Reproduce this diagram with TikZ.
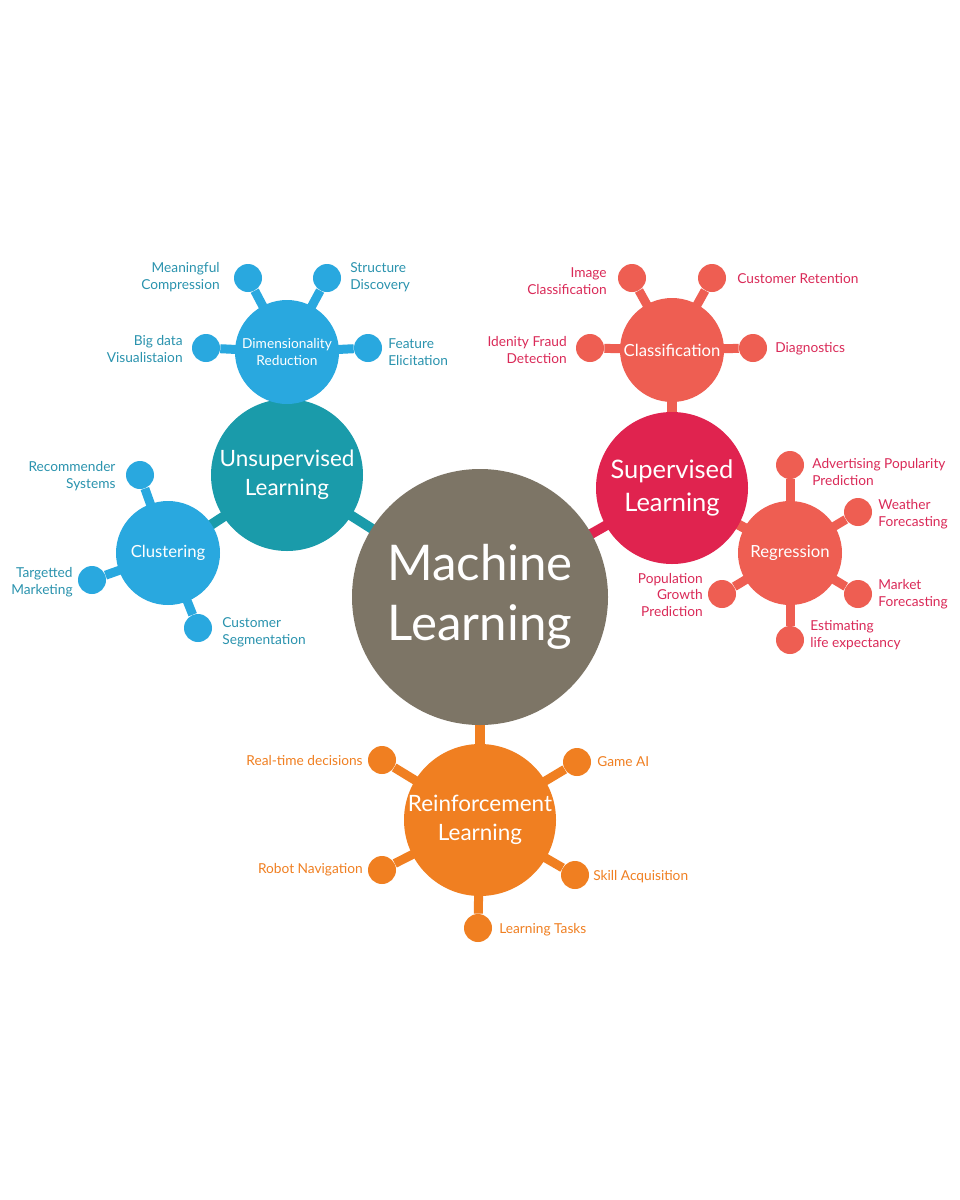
\documentclass[tikz,border=0pt]{standalone}
\usepackage{fontspec}
\setmainfont{Lato}
\begin{document}
\begin{tikzpicture}[x=0.02cm,y=-0.02cm,
 big/.style={circle,minimum size=152*0.02cm,inner sep=0,align=center,text=white,font=\fontsize{12.8}{16.5}\selectfont},
 mid/.style={circle,minimum size=104*0.02cm,inner sep=0,align=center,text=white,font=\fontsize{9.5}{11}\selectfont},
 leaf/.style={circle,minimum size=28*0.02cm,inner sep=0},
 lab/.style={font=\fontsize{7.8}{9.5}\selectfont,inner sep=0},
 con/.style={line width=10*0.02cm}]
\definecolor{cml}{HTML}{7D7566}
\definecolor{cun}{HTML}{1A9BAA}
\definecolor{cbl}{HTML}{29A8DF}
\definecolor{csu}{HTML}{E0234F}
\definecolor{csa}{HTML}{EE5E52}
\definecolor{cor}{HTML}{F07F21}
\definecolor{tbl}{HTML}{2A93AE}
\definecolor{tre}{HTML}{DA2A58}
\useasboundingbox (0,0) rectangle (960,1200);
\fill[white] (0,0) rectangle (960,1200);
\coordinate (ml) at (480,597);
\coordinate (un) at (287,475);
\coordinate (dr) at (287,352);
\coordinate (cl) at (168,553);
\coordinate (su) at (672,488);
\coordinate (cc) at (672,350);
\coordinate (re) at (790,553);
\coordinate (rl) at (480,820);
\draw[con,cun] (ml) -- (un);
\draw[con,cun] (un) -- (dr);
\draw[con,cun] (un) -- (cl);
\draw[con,csu] (ml) -- (su);
\draw[con,csa] (su) -- (cc);
\draw[con,csa] (su) -- (re);
\draw[con,cor] (ml) -- (rl);
\foreach \n/\p/\c/\col in {a/{248,278}/dr/cbl, b/{327,278}/dr/cbl, c/{206,348}/dr/cbl, d/{368,348}/dr/cbl,
  e/{140,475}/cl/cbl, f/{92,580}/cl/cbl, g/{198,628}/cl/cbl,
  h/{632,278}/cc/csa, i/{712,278}/cc/csa, j/{590,348}/cc/csa, k/{753,348}/cc/csa,
  l/{790,465}/re/csa, m/{858,512}/re/csa, o/{858,594}/re/csa, p/{790,640}/re/csa, q/{722,594}/re/csa,
  r/{382,760}/rl/cor, s/{577,762}/rl/cor, t/{382,870}/rl/cor, u/{575,875}/rl/cor, v/{478,928}/rl/cor}{
  \node[leaf,fill=\col] (L\n) at (\p) {};
  \draw[line width=9*0.02cm,\col] (\c) -- (L\n);
}
\node[big,minimum size=256*0.02cm,fill=cml,font=\fontsize{28}{34}\selectfont] (nml) at (ml) {Machine\\Learning};
\node[big,fill=cun] (nun) at (un) {Unsupervised\\Learning};
\node[mid,fill=cbl,font=\fontsize{7.8}{10}\selectfont] (ndr) at (dr) {Dimensionality\\Reduction};
\node[mid,fill=cbl] (ncl) at (cl) {Clustering};
\node[big,fill=csu,font=\fontsize{14.5}{19}\selectfont] (nsu) at (su) {Supervised\\Learning};
\node[mid,fill=csa] (ncc) at (cc) {Classification};
\node[mid,fill=csa] (nre) at (re) {Regression};
\node[big,fill=cor] (nrl) at (rl) {Reinforcement\\Learning};
\begin{scope}[tbl]
\node[lab,anchor=east,align=right] at (220,277) {Meaningful\\Compression};
\node[lab,anchor=west,align=left] at (350,277) {Structure\\Discovery};
\node[lab,anchor=east,align=right] at (183,349) {Big data\\Visualistaion};
\node[lab,anchor=west,align=left] at (388,352) {Feature\\Elicitation};
\node[lab,align=right] at (72,476) {Recommender\\Systems};
\node[lab,align=right] at (42,582) {Targetted\\Marketing};
\node[lab,anchor=west,align=left] at (222,632) {Customer\\Segmentation};
\end{scope}
\begin{scope}[tre]
\node[lab,anchor=east,align=right] at (607,281) {Image\\Classification};
\node[lab,anchor=west] at (737,279) {Customer Retention};
\node[lab,anchor=east,align=right] at (567,350) {Idenity Fraud\\Detection};
\node[lab,anchor=west] at (775,349) {Diagnostics};
\node[lab,anchor=west,align=left] at (812,472) {Advertising Popularity\\Prediction};
\node[lab,anchor=west,align=left] at (878,514) {Weather\\Forecasting};
\node[lab,anchor=west,align=left] at (878,594) {Market\\Forecasting};
\node[lab,anchor=west,align=left] at (810,635) {Estimating\\life expectancy};
\node[lab,align=right,anchor=east] at (703,595) {Population\\Growth\\Prediction};
\end{scope}
\begin{scope}[cor]
\node[lab,anchor=east] at (363,760) {Real-time decisions};
\node[lab,anchor=west] at (597,762) {Game AI};
\node[lab,anchor=east] at (363,870) {Robot Navigation};
\node[lab,anchor=west] at (593,877) {Skill Acquisition};
\node[lab,anchor=west] at (499,930) {Learning Tasks};
\end{scope}
\end{tikzpicture}
\end{document}
